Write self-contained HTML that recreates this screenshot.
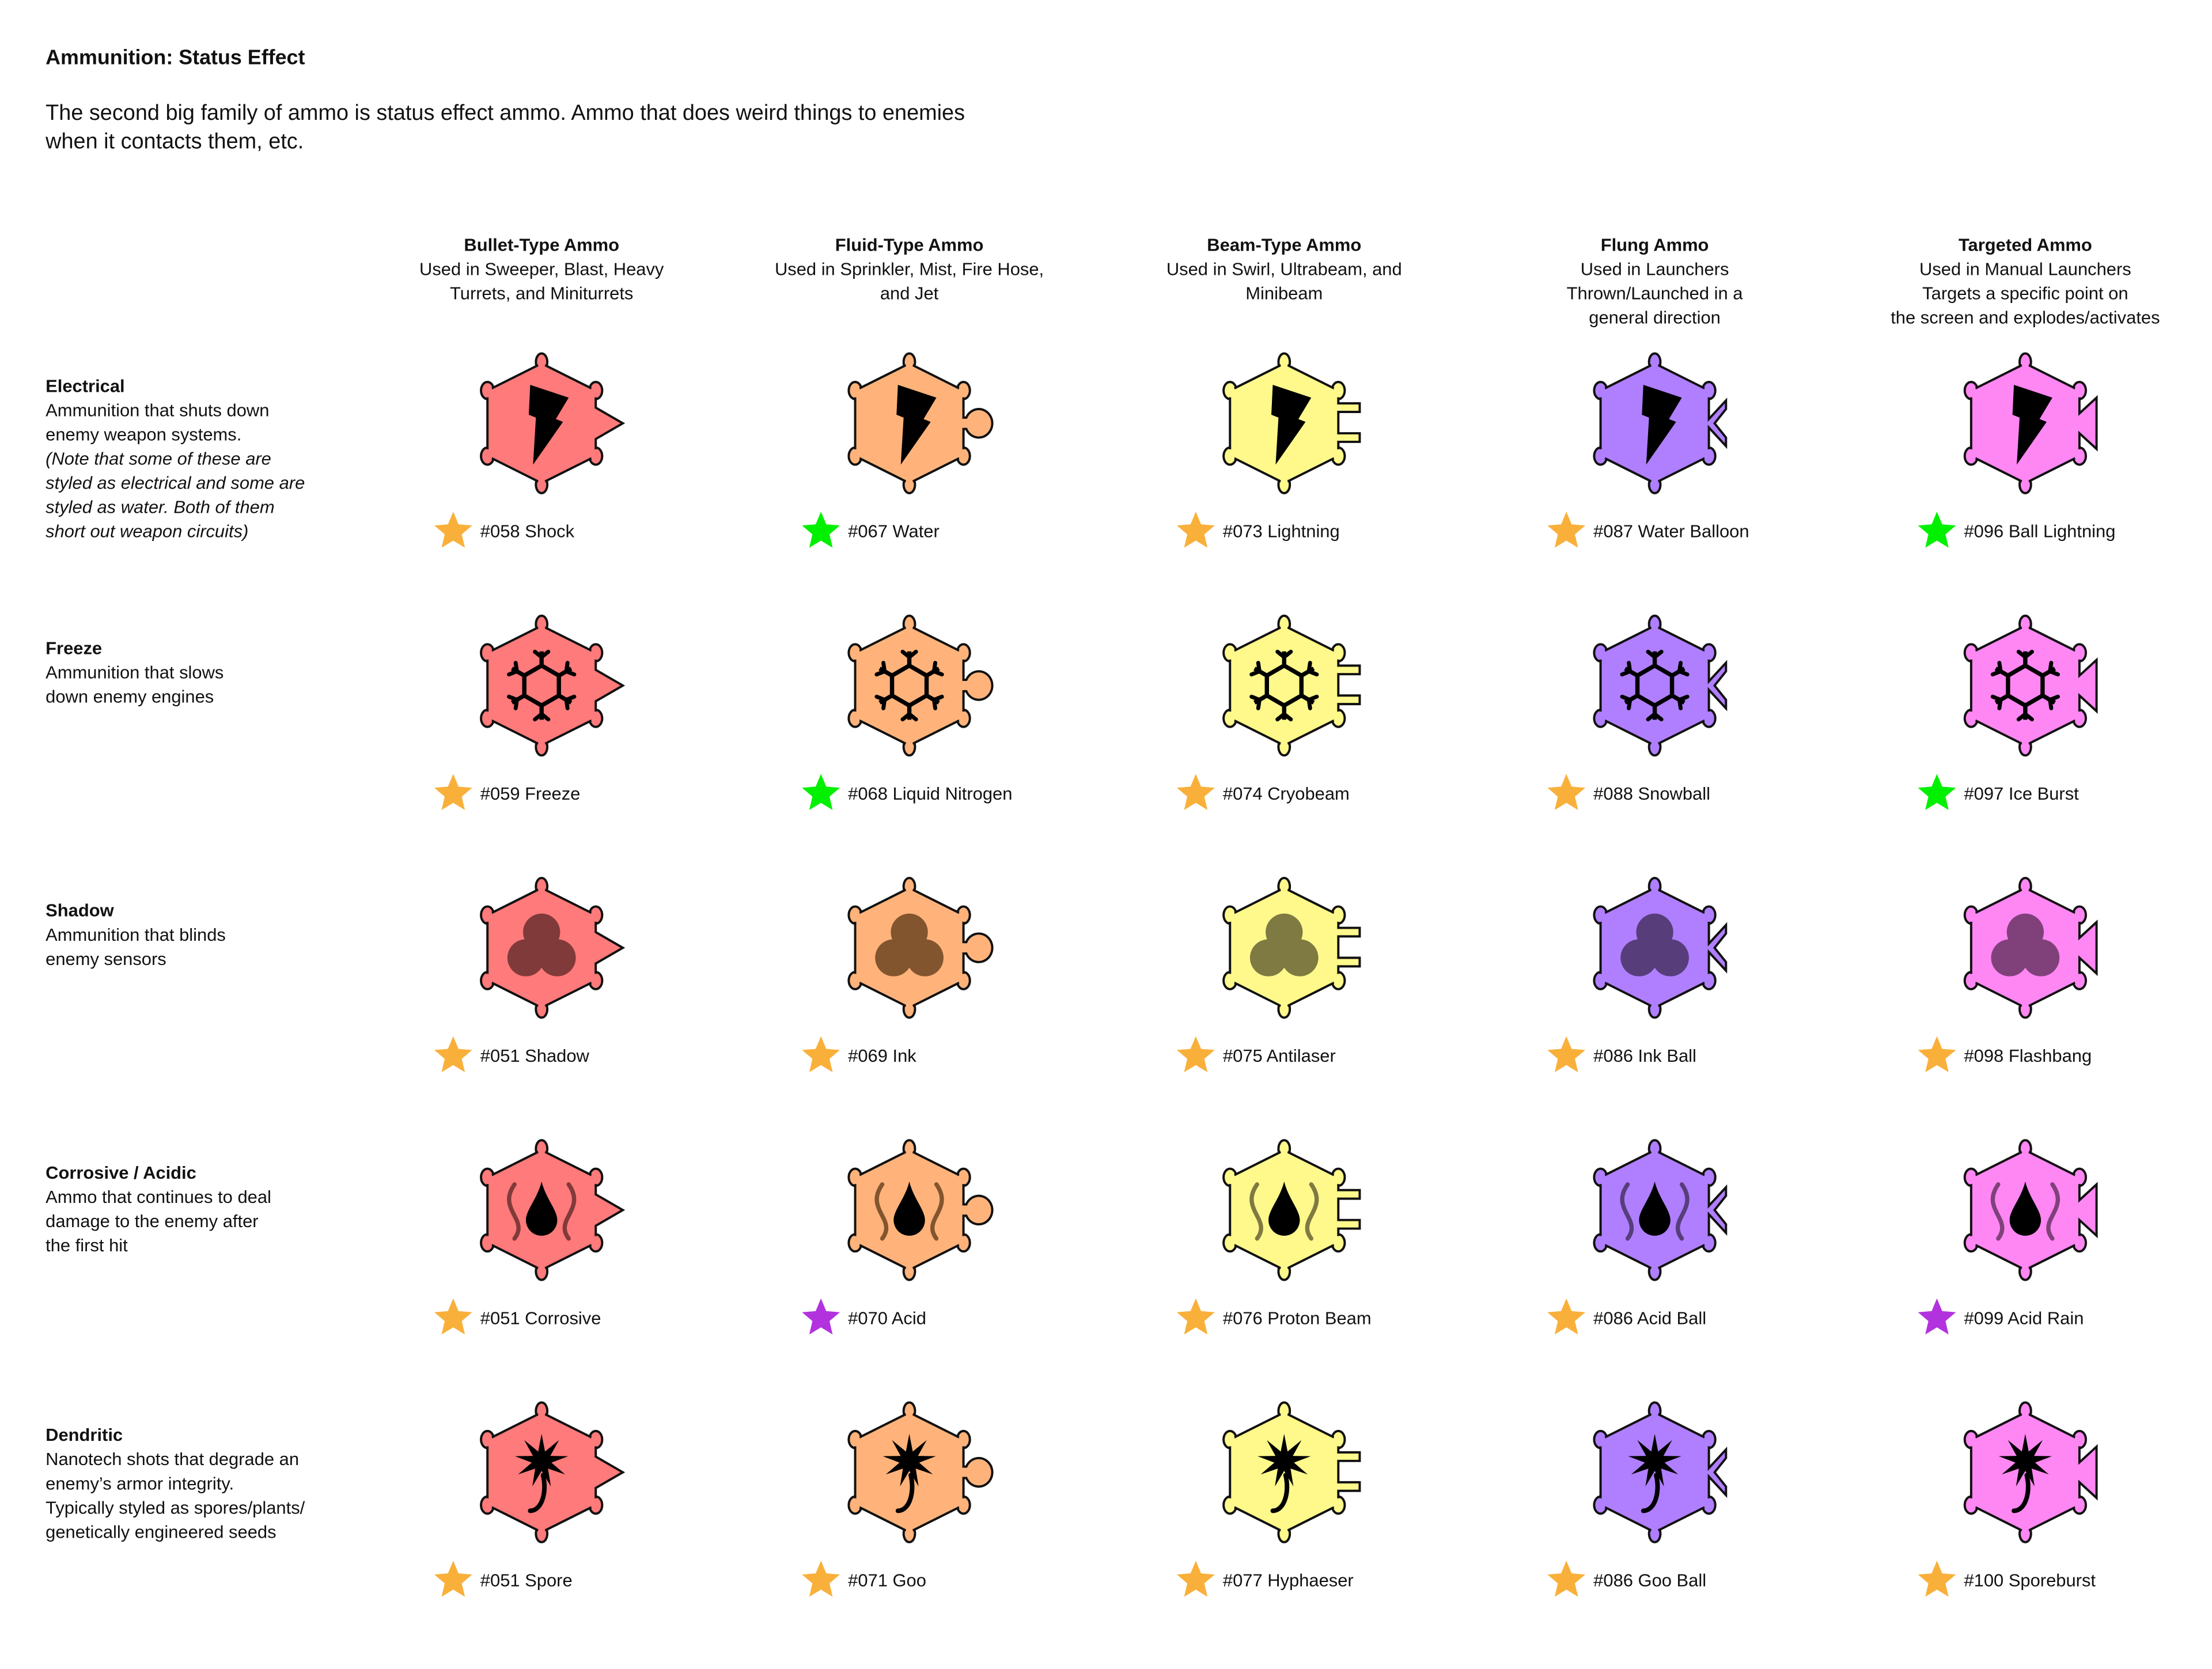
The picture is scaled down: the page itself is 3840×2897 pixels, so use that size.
<!DOCTYPE html>
<html><head><meta charset="utf-8"><style>
html,body{margin:0;padding:0;background:#fff;width:3840px;height:2897px;overflow:hidden}
svg{display:block}
text{font-family:"Liberation Sans",sans-serif;fill:#111}
</style></head><body>
<svg id="s" width="3840" height="2897" viewBox="0 0 1552 1171" preserveAspectRatio="none" xmlns="http://www.w3.org/2000/svg">
<text x="32" y="45" font-size="14.5" font-weight="bold">Ammunition: Status Effect</text>
<text x="32" y="84" font-size="15.3">The second big family of ammo is status effect ammo.  Ammo that does weird things to enemies</text>
<text x="32" y="104" font-size="15.3">when it contacts them, etc.</text>
<g id="g"></g>
</svg>
<script>
const colCenters=[380,638,901,1161,1421];
const rowCenters=[297,481,665,849,1033];
const colHeaders=[["Bullet-Type Ammo","Used in Sweeper, Blast, Heavy","Turrets, and Miniturrets"],["Fluid-Type Ammo","Used in Sprinkler, Mist, Fire Hose,","and Jet"],["Beam-Type Ammo","Used in Swirl, Ultrabeam, and","Minibeam"],["Flung Ammo","Used in Launchers","Thrown/Launched in a","general direction"],["Targeted Ammo","Used in Manual Launchers","Targets a specific point on","the screen and explodes/activates"]];
const rowHeaders=[["Electrical","Ammunition that shuts down","enemy weapon systems.","*(Note that some of these are","*styled as electrical and some are","*styled as water.  Both of them","*short out weapon circuits)"],["Freeze","Ammunition that slows","down enemy engines"],["Shadow","Ammunition that blinds","enemy sensors"],["Corrosive / Acidic","Ammo that continues to deal","damage to the enemy after","the first hit"],["Dendritic","Nanotech shots that degrade an","enemy\u2019s armor integrity.","Typically styled as spores/plants/","genetically engineered seeds"]];
const itemNames=[["#058 Shock","#067 Water","#073 Lightning","#087 Water Balloon","#096 Ball Lightning"],["#059 Freeze","#068 Liquid Nitrogen","#074 Cryobeam","#088 Snowball","#097 Ice Burst"],["#051 Shadow","#069 Ink","#075 Antilaser","#086 Ink Ball","#098 Flashbang"],["#051 Corrosive","#070 Acid","#076 Proton Beam","#086 Acid Ball","#099 Acid Rain"],["#051 Spore","#071 Goo","#077 Hyphaeser","#086 Goo Ball","#100 Sporeburst"]];
const starKinds=[["o","g","o","o","g"],["o","g","o","o","g"],["o","o","o","o","o"],["o","p","o","o","p"],["o","o","o","o","o"]];
const fills=["#ff7a7a","#ffb37a","#fff98c","#b07fff","#ff87f3"];
const darks=["#813a3a","#82552f","#7f7a42","#573e7b","#80417a"];
const starColors={o:"#f9b03b",g:"#00f000",p:"#b233de"};
const G=document.getElementById('g');
const NS="http://www.w3.org/2000/svg";
function mk(tag,attrs,parent){const e=document.createElementNS(NS,tag);for(const k in attrs)e.setAttribute(k,attrs[k]);(parent||G).appendChild(e);return e;}
colHeaders.forEach((lines,c)=>{lines.forEach((t,i)=>{const e=mk('text',{x:colCenters[c],y:176+17*i,'font-size':12.5,'text-anchor':'middle','font-weight':i==0?'bold':'normal'});e.textContent=t;

});});
rowHeaders.forEach((lines,r)=>{lines.forEach((t,i)=>{let it=t[0]=='*';const e=mk('text',{x:32,y:rowCenters[r]-22+17*i,'font-size':12.5,'font-weight':i==0?'bold':'normal','font-style':it?'italic':'normal'});e.textContent=it?t.slice(1):t;

});});
function hexPath(cx,cy,c){const w=38,h=42,s=23;
let p=`M${cx},${cy-h} L${cx+w},${cy-s} `;
if(c==0)p+=`L${cx+w},${cy-11} L${cx+w+19},${cy} L${cx+w},${cy+11} `;
else if(c==1)p+=`L${cx+w},${cy-4} L${cx+w+2},${cy-4} A9.5,10 0 1 1 ${cx+w+2},${cy+4} L${cx+w},${cy+4} `;
else if(c==2)p+=`L${cx+w},${cy-14} L${cx+w+15},${cy-14} L${cx+w+15},${cy-8} L${cx+w},${cy-8} L${cx+w},${cy+7} L${cx+w+15},${cy+7} L${cx+w+15},${cy+13} L${cx+w},${cy+13} `;
else if(c==3)p+=`L${cx+w},${cy-3} L${cx+w+12},${cy-16} L${cx+w+12},${cy-10} L${cx+w+4},${cy} L${cx+w+12},${cy+10} L${cx+w+12},${cy+16} L${cx+w},${cy+3} `;
else p+=`L${cx+w},${cy-7} L${cx+w+12},${cy-18} L${cx+w+12},${cy+18} L${cx+w},${cy+7} `;
p+=`L${cx+w},${cy+s} L${cx},${cy+h} L${cx-w},${cy+s} L${cx-w},${cy-s} Z`;return p;}
function star(cx,cy,R,col){let pts=[];for(let i=0;i<10;i++){const a=-Math.PI/2+i*Math.PI/5;const r=i%2?R*0.45:R;pts.push((cx+r*Math.cos(a)).toFixed(1)+','+(cy+r*Math.sin(a)).toFixed(1));}
const e=mk('polygon',{points:pts.join(' '),fill:col});

}
function glyph(r,cx,cy,c,grp){
if(r==0){const pts=[[-8,-27],[19,-18],[10,-3],[15,-1],[-6,29],[-4,-4],[-9,-6]].map(p=>(cx+p[0])+','+(cy+p[1])).join(' ');mk('polygon',{points:pts,fill:'#000'},grp);}
else if(r==1){const R=14;let pts=[];for(let i=0;i<6;i++){const a=-Math.PI/2+i*Math.PI/3;pts.push([cx+R*Math.cos(a),cy+R*Math.sin(a)]);}
mk('polygon',{points:pts.map(p=>p.join(',')).join(' '),fill:'none',stroke:'#000','stroke-width':3},grp);
pts.forEach((p,i)=>{const a=-Math.PI/2+i*Math.PI/3;const ex=cx+24*Math.cos(a),ey=cy+24*Math.sin(a);
mk('line',{x1:p[0],y1:p[1],x2:ex,y2:ey,stroke:'#000','stroke-width':3},grp);
const mx=cx+20*Math.cos(a),my=cy+20*Math.sin(a);
[-0.9,0.9].forEach(d=>{mk('line',{x1:mx,y1:my,x2:mx+6*Math.cos(a+d),y2:my+6*Math.sin(a+d),stroke:'#000','stroke-width':2.8,'stroke-linecap':'round'},grp);});});}
else if(r==2){[[0,-11],[-11,7],[11,7]].forEach(o=>mk('circle',{cx:cx+o[0],cy:cy+o[1],r:13,fill:darks[c]},grp));}
else if(r==3){mk('path',{d:`M${cx},${cy-20} C${cx+3},${cy-8} ${cx+11},${cy} ${cx+11},${cy+7} A11,11 0 0 1 ${cx-11},${cy+7} C${cx-11},${cy} ${cx-3},${cy-8} ${cx},${cy-20} Z`,fill:'#000'},grp);
[-1,1].forEach(s=>mk('path',{d:`M${cx+s*19},${cy-18} C${cx+s*26},${cy-8} ${cx+s*22},${cy-2} ${cx+s*18},${cy+6} C${cx+s*15},${cy+12} ${cx+s*16},${cy+16} ${cx+s*19},${cy+20}`,fill:'none',stroke:darks[c],'stroke-width':3,'stroke-linecap':'round'},grp));}
else{let pts=[];const n=9;for(let i=0;i<2*n;i++){const a=-Math.PI/2+i*Math.PI/n;const rr=i%2?7:19;pts.push((cx+rr*Math.cos(a)).toFixed(1)+','+(cy-8+rr*Math.sin(a)).toFixed(1));}
mk('polygon',{points:pts.join(' '),fill:'#000'},grp);
mk('path',{d:`M${cx+1},${cy+2} C${cx+4},${cy+14} ${cx},${cy+27} ${cx-8},${cy+27}`,fill:'none',stroke:'#000','stroke-width':3.2,'stroke-linecap':'round'},grp);}
}
rowCenters.forEach((cy,r)=>{colCenters.forEach((cx,c)=>{
const grp=mk('g',{});


const bumps=[[cx,cy-43,4,6],[cx,cy+43,4,6],[cx-38,cy-23,4.5,6],[cx+38,cy-23,4.5,6],[cx-38,cy+23,4.5,6],[cx+38,cy+23,4.5,6]];
bumps.forEach(b=>mk('ellipse',{cx:b[0],cy:b[1],rx:b[2],ry:b[3],fill:fills[c],stroke:'#111','stroke-width':1.6},grp));
mk('path',{d:hexPath(cx,cy,c),fill:fills[c],stroke:'#111','stroke-width':1.6,'stroke-linejoin':'miter'},grp);
bumps.forEach(b=>mk('ellipse',{cx:b[0],cy:b[1],rx:b[2]-1.2,ry:b[3]-1.2,fill:fills[c]},grp));
glyph(r,cx,cy,c,grp);
star(cx-62,cy+76,14,starColors[starKinds[r][c]]);
const t=mk('text',{x:cx-43,y:cy+80,'font-size':12.5});t.textContent=itemNames[r][c];


});});
</script>
</body></html>
